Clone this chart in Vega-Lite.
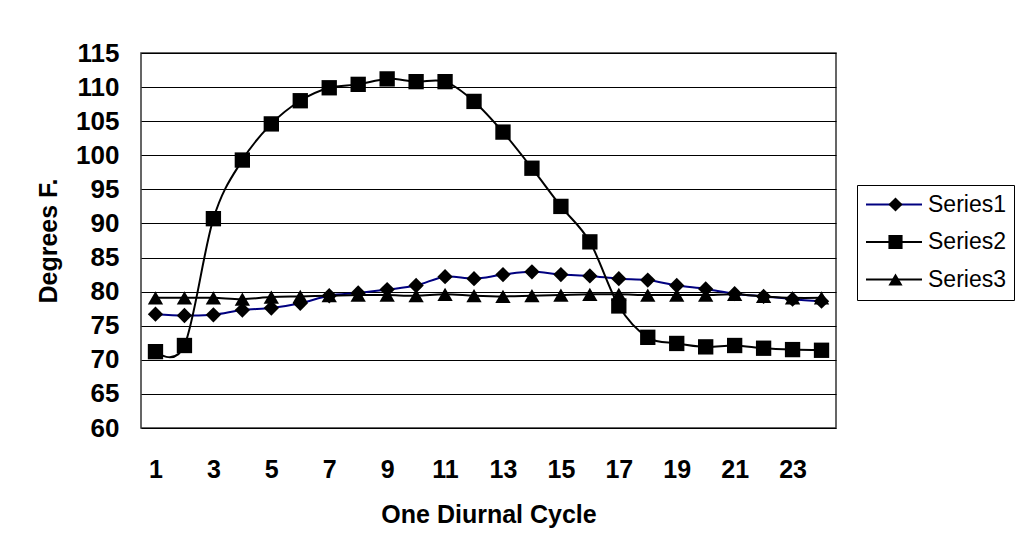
{
  "$schema": "https://vega.github.io/schema/vega-lite/v6.json",
  "width": 695,
  "height": 375,
  "autosize": {"type": "none"},
  "padding": {"left": 141, "top": 53, "right": 182, "bottom": 127},
  "background": "white",
  "config": {
    "font": "Liberation Sans",
    "view": {"stroke": "#333333", "strokeWidth": 1.5},
    "axis": {"grid": false, "ticks": false, "domain": false, "labelColor": "#000", "titleColor": "#000"}
  },
  "data": {
    "values": [
      {"hour": 1, "series": "Series1", "temp": 76.7},
      {"hour": 2, "series": "Series1", "temp": 76.5},
      {"hour": 3, "series": "Series1", "temp": 76.6},
      {"hour": 4, "series": "Series1", "temp": 77.3},
      {"hour": 5, "series": "Series1", "temp": 77.6},
      {"hour": 6, "series": "Series1", "temp": 78.3},
      {"hour": 7, "series": "Series1", "temp": 79.4},
      {"hour": 8, "series": "Series1", "temp": 79.8},
      {"hour": 9, "series": "Series1", "temp": 80.3},
      {"hour": 10, "series": "Series1", "temp": 80.9},
      {"hour": 11, "series": "Series1", "temp": 82.2},
      {"hour": 12, "series": "Series1", "temp": 81.9},
      {"hour": 13, "series": "Series1", "temp": 82.5},
      {"hour": 14, "series": "Series1", "temp": 82.9},
      {"hour": 15, "series": "Series1", "temp": 82.5},
      {"hour": 16, "series": "Series1", "temp": 82.3},
      {"hour": 17, "series": "Series1", "temp": 81.9},
      {"hour": 18, "series": "Series1", "temp": 81.7},
      {"hour": 19, "series": "Series1", "temp": 80.9},
      {"hour": 20, "series": "Series1", "temp": 80.4},
      {"hour": 21, "series": "Series1", "temp": 79.7},
      {"hour": 22, "series": "Series1", "temp": 79.3},
      {"hour": 23, "series": "Series1", "temp": 78.9},
      {"hour": 24, "series": "Series1", "temp": 78.6},
      {"hour": 1, "series": "Series2", "temp": 71.2},
      {"hour": 2, "series": "Series2", "temp": 72.1},
      {"hour": 3, "series": "Series2", "temp": 90.7},
      {"hour": 4, "series": "Series2", "temp": 99.3},
      {"hour": 5, "series": "Series2", "temp": 104.6},
      {"hour": 6, "series": "Series2", "temp": 108.0},
      {"hour": 7, "series": "Series2", "temp": 109.9},
      {"hour": 8, "series": "Series2", "temp": 110.4},
      {"hour": 9, "series": "Series2", "temp": 111.2},
      {"hour": 10, "series": "Series2", "temp": 110.8},
      {"hour": 11, "series": "Series2", "temp": 110.8},
      {"hour": 12, "series": "Series2", "temp": 107.9},
      {"hour": 13, "series": "Series2", "temp": 103.4},
      {"hour": 14, "series": "Series2", "temp": 98.1},
      {"hour": 15, "series": "Series2", "temp": 92.5},
      {"hour": 16, "series": "Series2", "temp": 87.3},
      {"hour": 17, "series": "Series2", "temp": 77.9},
      {"hour": 18, "series": "Series2", "temp": 73.3},
      {"hour": 19, "series": "Series2", "temp": 72.4},
      {"hour": 20, "series": "Series2", "temp": 71.9},
      {"hour": 21, "series": "Series2", "temp": 72.1},
      {"hour": 22, "series": "Series2", "temp": 71.7},
      {"hour": 23, "series": "Series2", "temp": 71.5},
      {"hour": 24, "series": "Series2", "temp": 71.4},
      {"hour": 1, "series": "Series3", "temp": 79.1},
      {"hour": 2, "series": "Series3", "temp": 79.1},
      {"hour": 3, "series": "Series3", "temp": 79.1},
      {"hour": 4, "series": "Series3", "temp": 78.9},
      {"hour": 5, "series": "Series3", "temp": 79.2},
      {"hour": 6, "series": "Series3", "temp": 79.3},
      {"hour": 7, "series": "Series3", "temp": 79.4},
      {"hour": 8, "series": "Series3", "temp": 79.5},
      {"hour": 9, "series": "Series3", "temp": 79.5},
      {"hour": 10, "series": "Series3", "temp": 79.4},
      {"hour": 11, "series": "Series3", "temp": 79.6},
      {"hour": 12, "series": "Series3", "temp": 79.4},
      {"hour": 13, "series": "Series3", "temp": 79.3},
      {"hour": 14, "series": "Series3", "temp": 79.4},
      {"hour": 15, "series": "Series3", "temp": 79.5},
      {"hour": 16, "series": "Series3", "temp": 79.6},
      {"hour": 17, "series": "Series3", "temp": 79.6},
      {"hour": 18, "series": "Series3", "temp": 79.5},
      {"hour": 19, "series": "Series3", "temp": 79.5},
      {"hour": 20, "series": "Series3", "temp": 79.5},
      {"hour": 21, "series": "Series3", "temp": 79.6},
      {"hour": 22, "series": "Series3", "temp": 79.3},
      {"hour": 23, "series": "Series3", "temp": 79.1},
      {"hour": 24, "series": "Series3", "temp": 79.1}
    ]
  },
  "encoding": {
    "x": {
      "field": "hour",
      "type": "quantitative",
      "scale": {"domain": [0.5, 24.5], "nice": false, "zero": false},
      "axis": {
        "title": "One Diurnal Cycle",
        "values": [1, 3, 5, 7, 9, 11, 13, 15, 17, 19, 21, 23],
        "labelFontSize": 25,
        "labelFontWeight": "bold",
        "labelPadding": 29,
        "titleFontSize": 25,
        "titleFontWeight": "bold",
        "titlePadding": 20
      }
    },
    "y": {
      "field": "temp",
      "type": "quantitative",
      "scale": {"domain": [60, 115], "nice": false, "zero": false},
      "axis": {
        "title": "Degrees F.",
        "values": [60, 65, 70, 75, 80, 85, 90, 95, 100, 105, 110, 115],
        "grid": true,
        "gridColor": "#000000",
        "gridWidth": 1,
        "gridOpacity": 1,
        "labelFontSize": 26,
        "labelFontWeight": "bold",
        "labelPadding": 22,
        "titleFontSize": 25,
        "titleFontWeight": "bold",
        "titlePadding": 14
      }
    }
  },
  "layer": [
    {
      "mark": {"type": "line", "interpolate": "cardinal", "strokeWidth": 2},
      "encoding": {
        "color": {
          "field": "series",
          "type": "nominal",
          "scale": {"range": ["#000080", "#000000", "#000000"]},
          "legend": {
            "title": null,
            "orient": "none",
            "legendX": 716,
            "legendY": 132,
            "strokeColor": "#000000",
            "padding": 8,
            "symbolType": "stroke",
            "symbolSize": 3136,
            "symbolStrokeWidth": 2,
            "clipHeight": 23,
            "rowPadding": 13.5,
            "labelFontSize": 23,
            "labelColor": "#000000",
            "labelOffset": 5
          }
        }
      }
    },
    {
      "mark": {"type": "point", "filled": true, "color": "#000000", "opacity": 1, "size": 235},
      "encoding": {
        "shape": {
          "field": "series",
          "type": "nominal",
          "scale": {"domain": ["Series1", "Series2", "Series3"], "range": ["diamond", "square", "triangle-up"]},
          "legend": {
            "title": null,
            "orient": "none",
            "legendX": 735,
            "legendY": 132,
            "padding": 8,
            "symbolSize": 200,
            "symbolFillColor": "#000000",
            "symbolStrokeColor": "#000000",
            "symbolStrokeWidth": 0,
            "symbolOpacity": 1,
            "clipHeight": 23,
            "rowPadding": 13.5,
            "labelFontSize": 23,
            "labelExpr": "''",
            "labelOpacity": 0,
            "labelOffset": 0
          }
        }
      }
    }
  ]
}
